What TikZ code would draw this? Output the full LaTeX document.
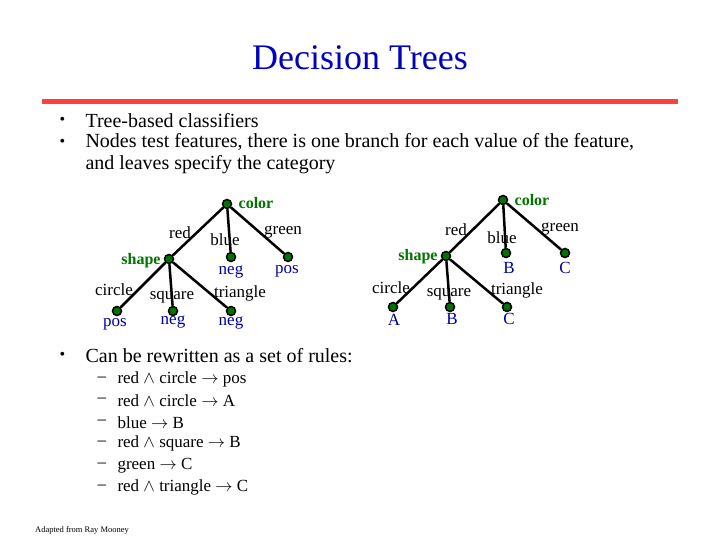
\documentclass[tikz,border=0pt]{standalone}
\usepackage{fontspec}
\setmainfont{Liberation Serif}
\begin{document}
\begin{tikzpicture}[x=1pt,y=-1pt,
    dot/.style={circle,draw=black,fill=green!45!black,inner sep=0pt,minimum size=9pt,line width=1.5pt},
    edge label/.style={font=\fontsize{17}{17}\selectfont},
    test label/.style={font=\fontsize{16}{16}\selectfont\bfseries,text=green!45!black},
    leaf label/.style={font=\fontsize{17}{17}\selectfont,text=blue!60!black},
    body/.style={font=\fontsize{20}{22}\selectfont,anchor=west},
    branch/.style={line width=2.5pt}
]
\useasboundingbox (0,0) rectangle (720,540);

% TITLE
\node[font=\fontsize{36}{36}\selectfont,text=blue!75!black] (title) at (360,58) {Decision Trees};
\draw[line width=5pt,red!75] (42,102) -- (678,102);

% BULLETS
\node[body,font=\fontsize{16}{16}\selectfont] (ba) at (56,121) {•};
\node[body] (ta) at (82,121) {Tree-based classifiers};
\node[body,font=\fontsize{16}{16}\selectfont] (bb) at (56,143) {•};
\node[body,align=left] (tb) at (82,154) {Nodes test features, there is one branch for each value of the feature,\\and leaves specify the category};

% LEFT TREE
\node[dot] (lcolor) at (227,204) {};
\node[dot] (lshape) at (169,259) {};
\node[dot] (lblue) at (231,257) {};
\node[dot] (lgreen) at (288,257) {};
\node[dot] (lcircle) at (117,311) {};
\node[dot] (lsquare) at (173,311) {};
\node[dot] (ltriangle) at (231,311) {};
\draw[branch] (lcolor) -- (lshape) (lcolor) -- (lblue) (lcolor) -- (lgreen);
\draw[branch] (lshape) -- (lcircle) (lshape) -- (lsquare) (lshape) -- (ltriangle);
\node[test label] (lcolort) at (256,203) {color};
\node[test label] (lshapet) at (141,261) {shape};
\node[edge label] (lred) at (180,233) {red};
\node[edge label] (lbluet) at (225,240) {blue};
\node[edge label] (lgreent) at (283,232) {green};
\node[edge label] (lcirclet) at (114,290) {circle};
\node[edge label] (lsquaret) at (172,297) {square};
\node[edge label] (ltrianglet) at (240,293) {triangle};
\node[leaf label] (lneg) at (231,272) {neg};
\node[leaf label] (lpos) at (287,271) {pos};
\node[leaf label] (lposb) at (115,324) {pos};
\node[leaf label] (lnegb) at (173,322) {neg};
\node[leaf label] (lnegc) at (231,323) {neg};

% RIGHT TREE
\node[dot] (rcolor) at (503,200) {};
\node[dot] (rshape) at (446,256) {};
\node[dot] (rblue) at (506,253) {};
\node[dot] (rgreen) at (565,253) {};
\node[dot] (rcircle) at (393,307) {};
\node[dot] (rsquare) at (450,307) {};
\node[dot] (rtriangle) at (507,307) {};
\draw[branch] (rcolor) -- (rshape) (rcolor) -- (rblue) (rcolor) -- (rgreen);
\draw[branch] (rshape) -- (rcircle) (rshape) -- (rsquare) (rshape) -- (rtriangle);
\node[test label] (rcolort) at (532,200) {color};
\node[test label] (rshapet) at (418,257) {shape};
\node[edge label] (rred) at (456,230) {red};
\node[edge label] (rbluet) at (502,238) {blue};
\node[edge label] (rgreent) at (560,229) {green};
\node[edge label] (rcirclet) at (391,288) {circle};
\node[edge label] (rsquaret) at (449,294) {square};
\node[edge label] (rtrianglet) at (517,290) {triangle};
\node[leaf label] (rb) at (509,268) {B};
\node[leaf label] (rc) at (565,268) {C};
\node[leaf label] (ra) at (394,320) {A};
\node[leaf label] (rbb) at (452,319) {B};
\node[leaf label] (rcc) at (509,319) {C};

% RULES
\node[body,font=\fontsize{16}{16}\selectfont] (bc) at (56,356) {•};
\node[body] (tc) at (82,356) {Can be rewritten as a set of rules:};
\foreach \i/\rule in {0/{red $\wedge$ circle $\rightarrow$ pos},
                      1/{red $\wedge$ circle $\rightarrow$ A},
                      2/{blue $\rightarrow$ B},
                      3/{red $\wedge$ square $\rightarrow$ B},
                      4/{green $\rightarrow$ C},
                      5/{red $\wedge$ triangle $\rightarrow$ C}} {
  \node[font=\fontsize{17}{17}\selectfont,anchor=west] (dash\i) at (94,379+21.6*\i) {–};
  \node[font=\fontsize{17}{17}\selectfont,anchor=west] (rule\i) at (114,379+21.6*\i) {\rule};
}

\node[font=\fontsize{8.5}{8.5}\selectfont] (credit) at (82,530) {Adapted from Ray Mooney};
\end{tikzpicture}
\end{document}
